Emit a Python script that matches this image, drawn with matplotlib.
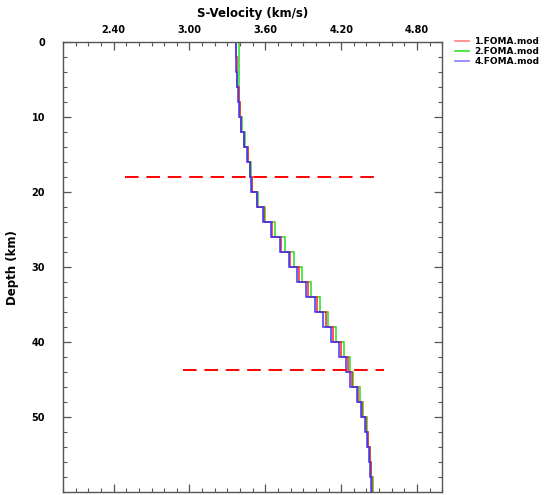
import numpy as np
import matplotlib
matplotlib.use('Agg')
import matplotlib.pyplot as plt
from matplotlib.lines import Line2D
from matplotlib.ticker import MultipleLocator, FixedLocator

# layer tops (km), 2 km layers down to 60 km
depth_edges = np.arange(0, 62, 2)

# S-velocity (km/s) per layer
vs_1 = [3.370, 3.372, 3.378, 3.388, 3.396, 3.411, 3.430, 3.459, 3.479, 3.492,
        3.533, 3.590, 3.653, 3.724, 3.799, 3.866, 3.936, 4.008, 4.077, 4.137,
        4.201, 4.253, 4.282, 4.335, 4.365, 4.395, 4.410, 4.425, 4.433, 4.441]
vs_2 = [3.389, 3.389, 3.390, 3.395, 3.401, 3.416, 3.440, 3.464, 3.487, 3.495,
        3.545, 3.598, 3.677, 3.753, 3.824, 3.891, 3.962, 4.033, 4.097, 4.157,
        4.219, 4.271, 4.297, 4.346, 4.373, 4.401, 4.415, 4.431, 4.439, 4.452]
vs_4 = [3.370, 3.370, 3.378, 3.386, 3.394, 3.409, 3.433, 3.457, 3.481, 3.489,
        3.536, 3.584, 3.647, 3.718, 3.789, 3.853, 3.924, 3.995, 4.059, 4.122,
        4.186, 4.241, 4.272, 4.328, 4.360, 4.392, 4.408, 4.424, 4.432, 4.440]
labels = ['1.FOMA.mod', '2.FOMA.mod', '4.FOMA.mod']

# dashed marker lines: depth, x start, x end
moho_depths = [18.0, 43.75]
moho_x0 = [2.49, 2.95]
moho_x1 = [4.50, 4.54]

fig = plt.figure(figsize=(5.44, 4.95), dpi=100)
ax = fig.add_axes([0.116, 0.0054, 0.697, 0.909])

ax.stairs(vs_2, depth_edges, orientation='horizontal', baseline=None,
          color='#22dd22', lw=1.1)
ax.stairs(vs_1, depth_edges, orientation='horizontal', baseline=None,
          color='#ff2020', lw=1.1)
ax.stairs(vs_4, depth_edges, orientation='horizontal', baseline=None,
          color='#3535ff', lw=1.1)

for d, a, b in zip(moho_depths, moho_x0, moho_x1):
    ax.plot([a, b], [d, d], color='#ff0000', lw=1.4, dashes=(7, 4))

ax.set_xlim(2.0, 5.0)
ax.set_ylim(60, 0)
ax.xaxis.tick_top()
ax.xaxis.set_label_position('top')
ax.xaxis.set_major_locator(FixedLocator([2.4, 3.0, 3.6, 4.2, 4.8]))
ax.xaxis.set_minor_locator(MultipleLocator(0.1))
ax.yaxis.set_major_locator(FixedLocator([0, 10, 20, 30, 40, 50]))
ax.yaxis.set_minor_locator(MultipleLocator(2))
ax.set_xticklabels(['2.40', '3.00', '3.60', '4.20', '4.80'])

ax.tick_params(which='both', direction='in', top=True, bottom=True,
               left=True, right=True, color='#555555')
ax.tick_params(which='major', length=6, width=0.9, labelsize=7)
ax.tick_params(which='minor', length=3, width=0.8)
ax.tick_params(axis='x', which='major', pad=5)
ax.tick_params(axis='y', which='major', pad=13)
for t in ax.get_xticklabels() + ax.get_yticklabels():
    t.set_fontweight('bold')
for s in ax.spines.values():
    s.set_color('#555555')
    s.set_linewidth(1.0)

ax.set_xlabel('S-Velocity (km/s)', fontsize=8.5, fontweight='bold', labelpad=6)
ax.set_ylabel('Depth (km)', fontsize=8.5, fontweight='bold', labelpad=9)

handles = [Line2D([], [], color=c, lw=1.2) for c in ['#ff8080', '#30e030', '#8080ff']]
ax.legend(handles, labels, loc='upper left', bbox_to_anchor=(1.034, 1.012),
          frameon=False, prop={'weight': 'bold', 'size': 6.5},
          handlelength=1.5, handletextpad=0.6, labelspacing=0.1,
          borderaxespad=0, borderpad=0)

fig.savefig('out.png', dpi=100)
